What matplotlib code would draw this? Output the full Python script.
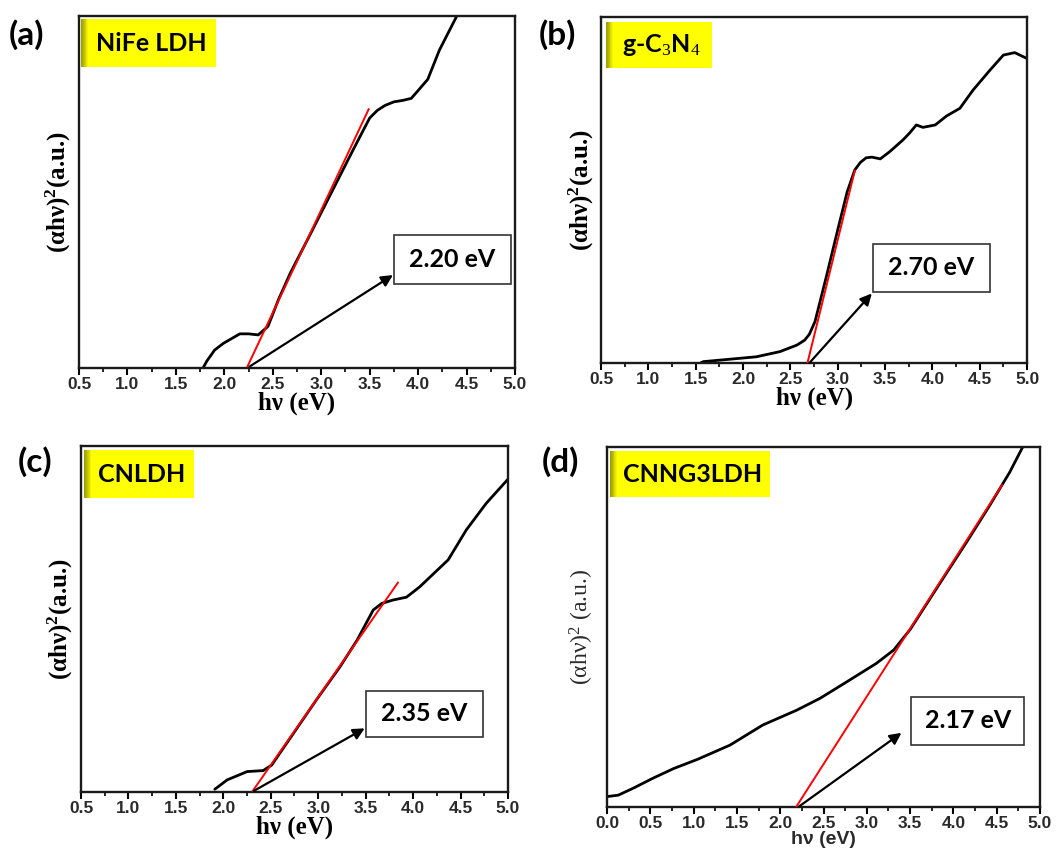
import matplotlib.pyplot as plt
from matplotlib.patches import Rectangle
import numpy as np

plt.rcParams['mathtext.fontset'] = 'custom'
plt.rcParams['mathtext.rm'] = 'Liberation Serif'
plt.rcParams['mathtext.bf'] = 'Liberation Serif:bold'
plt.rcParams['mathtext.it'] = 'Liberation Serif:italic'

# (a) NiFe LDH
a_x = [1.78, 1.82, 1.90, 1.99, 2.16, 2.25, 2.35, 2.45, 2.56, 2.68, 2.88, 3.09, 3.33, 3.50,
       3.58, 3.66, 3.75, 3.84, 3.93, 4.00, 4.10, 4.22, 4.40, 4.55]
a_y = [0, 2.0, 5.1, 7.0, 9.7, 9.7, 9.4, 11.8, 19.5, 26.9, 37.6, 49.0, 62.0, 71.0,
       73.2, 74.6, 75.6, 76.0, 76.6, 78.8, 82.0, 90.3, 100, 107]
a_fit_x = [2.24, 3.49]
a_fit_y = [0.5, 73.5]
a_arrow = [(2.26, 0.4), (3.74, 26.4)]

# (b) g-C3N4
b_x = [1.55, 1.58, 2.14, 2.39, 2.57, 2.65, 2.70, 2.76, 2.88, 3.00, 3.10, 3.18, 3.24, 3.30,
       3.36, 3.45, 3.55, 3.69, 3.76, 3.83, 3.90, 4.03, 4.15, 4.29, 4.43, 4.61, 4.75, 4.87, 5.0]
b_y = [0, 0.4, 1.8, 3.3, 5.2, 6.6, 8.3, 12.0, 25.0, 38.5, 49.5, 55.8, 58.0, 59.3,
       59.5, 59.0, 61.1, 64.5, 66.5, 68.8, 68.1, 68.8, 71.4, 73.6, 78.9, 84.7, 89.0, 89.7, 88.0]
b_fit_x = [2.68, 3.18]
b_fit_y = [0, 55.6]
b_arrow = [(2.70, 0), (3.36, 20.1)]

# (c) CNLDH
c_x = [1.91, 2.04, 2.25, 2.42, 2.51, 2.74, 2.98, 3.23, 3.41, 3.58, 3.67, 3.79, 3.93, 4.07,
       4.37, 4.56, 4.77, 5.0]
c_y = [0.8, 3.5, 5.9, 6.2, 7.8, 17, 26.6, 36.2, 43.9, 52.6, 54.5, 55.5, 56.3, 59.3,
       67.1, 75.7, 83.4, 90.4]
c_fit_x = [2.31, 3.84]
c_fit_y = [0.3, 60.5]
c_arrow = [(2.32, 0.3), (3.49, 18.4)]

# (d) CNNG3LDH
d_x = [0.0, 0.13, 0.30, 0.53, 0.77, 1.04, 1.42, 1.61, 1.80, 2.19, 2.46, 2.77, 3.11, 3.31,
       3.50, 3.69, 3.92, 4.15, 4.42, 4.65, 4.80]
d_y = [2.9, 3.3, 5.2, 8.0, 10.7, 13.2, 17.2, 20.0, 22.8, 26.9, 30.2, 34.8, 39.9, 43.6,
       49.3, 56.4, 65.0, 73.5, 83.8, 93.0, 100]
d_fit_x = [2.17, 4.56]
d_fit_y = [-0.5, 89.4]
d_arrow = [(2.22, 0.2), (3.4, 20.6)]

tags = ['(a)', '(b)', '(c)', '(d)']
names = ['NiFe LDH', 'g-C$_3$N$_4$', 'CNLDH', 'CNNG3LDH']
gaps = ['2.20 eV', '2.70 eV', '2.35 eV', '2.17 eV']

fig = plt.figure(figsize=(10.62, 8.58), dpi=100)

panels = [
    ([0.0744, 0.5711, 0.4105, 0.4103], a_x, a_y, a_fit_x, a_fit_y, a_arrow, 0.5,
     (0.005, 0.855, 0.31, 0.135), (0.722, 0.24, 0.268, 0.137), 'serif'),
    ([0.566, 0.5769, 0.4011, 0.4033], b_x, b_y, b_fit_x, b_fit_y, b_arrow, 0.5,
     (0.012, 0.852, 0.248, 0.134), (0.638, 0.206, 0.274, 0.138), 'serif'),
    ([0.0763, 0.0769, 0.402, 0.4033], c_x, c_y, c_fit_x, c_fit_y, c_arrow, 0.5,
     (0.008, 0.85, 0.257, 0.137), (0.667, 0.158, 0.275, 0.135), 'serif'),
    ([0.5716, 0.0594, 0.4077, 0.4196], d_x, d_y, d_fit_x, d_fit_y, d_arrow, 0.0,
     (0.007, 0.86, 0.369, 0.13), (0.702, 0.172, 0.262, 0.134), 'sans'),
]

tag_pos = [(0.008, 0.96), (0.507, 0.96), (0.017, 0.462), (0.510, 0.462)]

for i, (rect, x, y, fx, fy, arr, xmin, lab, box, style) in enumerate(panels):
    ax = fig.add_axes(rect)
    ax.plot(x, y, color='black', lw=2.0, solid_joinstyle='round', solid_capstyle='round', zorder=2)
    ax.plot(fx, fy, color='red', lw=1.4, zorder=3)
    ax.annotate('', xy=arr[1], xytext=arr[0],
                arrowprops=dict(arrowstyle='-|>', color='black', lw=1.6, mutation_scale=17,
                                shrinkA=0, shrinkB=0), zorder=4)
    ax.set_xlim(xmin, 5.0)
    ax.set_ylim(0, 100)
    ax.set_xticks(np.arange(xmin, 5.01, 0.5))
    ax.set_xticks(np.arange(xmin + 0.25, 5.0, 0.5), minor=True)
    ax.set_xticklabels(['%.1f' % v for v in np.arange(xmin, 5.01, 0.5)],
                       fontsize=12.5, fontweight='bold', family='Liberation Sans', color='#2a2a2a')
    ax.set_yticks([])
    ax.tick_params(axis='x', which='major', direction='out', length=5, width=1.5, pad=1.5)
    ax.tick_params(axis='x', which='minor', direction='out', length=3, width=1.2)
    for s in ax.spines.values():
        s.set_linewidth(1.7)
        s.set_color('#1a1a1a')

    if style == 'serif':
        ax.set_xlabel('hν (eV)', family='Liberation Serif', fontweight='bold', fontsize=18,
                      labelpad=0)
        ax.set_ylabel('(αhν)$^{\\mathbf{2}}$(a.u.)', family='Liberation Serif',
                      fontweight='bold', fontsize=18, labelpad=4)
    else:
        ax.set_xlabel('hν (eV)', family='Liberation Sans', fontweight='bold', fontsize=14,
                      labelpad=0, color='#2a2a2a')
        ax.set_ylabel('(αhν)$^{2}$ (a.u.)', family='Liberation Serif', fontsize=17,
                      labelpad=8, color='#2a2a2a')

    # yellow sample label with darker left edge
    lx, ly, lw, lh = lab
    ax.add_patch(Rectangle((lx, ly), lw, lh, transform=ax.transAxes,
                           facecolor='#ffff00', edgecolor='none', zorder=5))
    for k in range(8):
        t = k / 8
        col = (0.62 + 0.38 * t, 0.62 + 0.38 * t, 0.0)
        ax.add_patch(Rectangle((lx + k * 0.002, ly), 0.002, lh, transform=ax.transAxes,
                               facecolor=col, edgecolor='none', zorder=6))
    ax.text(lx + lw / 2 + 0.005, ly + lh / 2, names[i], transform=ax.transAxes,
            ha='center', va='center', fontsize=18, fontweight='bold', family='Lato', zorder=7)

    # band gap box
    bx, by, bw, bh = box
    ax.add_patch(Rectangle((bx, by), bw, bh, transform=ax.transAxes,
                           facecolor='white', edgecolor='#333333', lw=1.2, zorder=5))
    ax.text(bx + bw / 2, by + bh / 2, gaps[i], transform=ax.transAxes,
            ha='center', va='center', fontsize=18, fontweight='bold', family='Lato', zorder=6)

    fig.text(tag_pos[i][0], tag_pos[i][1], tags[i], fontsize=24, fontweight='bold',
             family='Lato', ha='left', va='center')

plt.savefig('out.png', dpi=100)
